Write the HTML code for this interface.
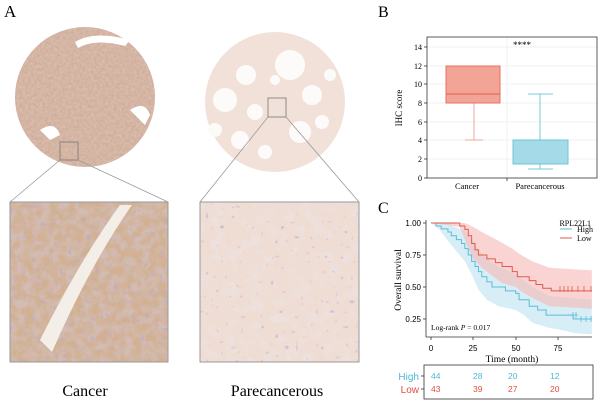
<!DOCTYPE html>
<html><head><meta charset="utf-8"><style>
html,body{margin:0;padding:0;background:#fff;}
svg{display:block;font-family:"Liberation Serif",serif;}
.s{font-family:"Liberation Sans",sans-serif;}
</style></head><body>
<svg width="600" height="405" viewBox="0 0 600 405" xmlns="http://www.w3.org/2000/svg">
<defs>
<filter id="tex1" x="0" y="0" width="100%" height="100%">
<feTurbulence type="fractalNoise" baseFrequency="0.35" numOctaves="2" seed="3" result="n"/>
<feColorMatrix type="matrix" values="0 0 0 0 0.7  0 0 0 0 0.5  0 0 0 0 0.42  0 0 0 -2 1.5"/>
<feComposite in2="SourceGraphic" operator="in"/>
</filter>
<filter id="tex2" x="0" y="0" width="100%" height="100%">
<feTurbulence type="fractalNoise" baseFrequency="0.12" numOctaves="3" seed="7"/>
<feColorMatrix type="matrix" values="0 0 0 0 0.65  0 0 0 0 0.5  0 0 0 0 0.45  0 0 0 -2.4 1.7"/>
<feComposite in2="SourceGraphic" operator="in"/>
</filter>
<filter id="nuc" x="0" y="0" width="100%" height="100%">
<feTurbulence type="fractalNoise" baseFrequency="0.22" numOctaves="1" seed="21"/>
<feColorMatrix type="matrix" values="0 0 0 0 0.5  0 0 0 0 0.4  0 0 0 0 0.6  12 0 0 0 -7.6"/>
<feComposite in2="SourceGraphic" operator="in"/>
</filter>
<filter id="nuc2" x="0" y="0" width="100%" height="100%">
<feTurbulence type="fractalNoise" baseFrequency="0.2" numOctaves="1" seed="5"/>
<feColorMatrix type="matrix" values="0 0 0 0 0.5  0 0 0 0 0.42  0 0 0 0 0.65  12 0 0 0 -8.2"/>
<feComposite in2="SourceGraphic" operator="in"/>
</filter>
<filter id="tex3" x="0" y="0" width="100%" height="100%">
<feTurbulence type="fractalNoise" baseFrequency="0.08" numOctaves="3" seed="11"/>
<feColorMatrix type="matrix" values="0 0 0 0 0.85  0 0 0 0 0.75  0 0 0 0 0.72  0 0 0 -2.6 1.6"/>
<feComposite in2="SourceGraphic" operator="in"/>
</filter>
</defs>
<text x="4" y="17" font-size="17">A</text>
<circle cx="85" cy="97" r="70" fill="#cfae9a"/>
<circle cx="85" cy="97" r="70" fill="#fff" filter="url(#tex1)"/>
<path d="M75 42 Q95 30 130 40 L125 46 Q95 38 78 48Z" fill="#fff"/>
<path d="M130 110 Q145 100 150 115 L145 125Z" fill="#fff"/>
<path d="M40 130 Q55 120 60 135 L50 140Z" fill="#fff"/>
<rect x="60" y="142" width="18" height="18" fill="none" stroke="#777" stroke-width="0.8"/>
<circle cx="275" cy="102" r="70" fill="#f1e1d9"/>
<g fill="#fdfbfa">
<circle cx="290" cy="65" r="15"/><circle cx="246" cy="75" r="10"/><circle cx="225" cy="100" r="12"/>
<circle cx="255" cy="112" r="8"/><circle cx="312" cy="95" r="10"/><circle cx="300" cy="132" r="11"/>
<circle cx="240" cy="140" r="9"/><circle cx="322" cy="122" r="7"/><circle cx="265" cy="152" r="7"/>
<circle cx="330" cy="75" r="6"/><circle cx="215" cy="130" r="7"/><circle cx="275" cy="80" r="5"/></g>
<rect x="268" y="98" width="18" height="19" fill="none" stroke="#777" stroke-width="0.8"/>
<g stroke="#999" stroke-width="0.8">
<line x1="60" y1="160" x2="10" y2="202"/><line x1="78" y1="160" x2="168" y2="202"/>
<line x1="268" y1="117" x2="200" y2="202"/><line x1="286" y1="117" x2="359" y2="202"/></g>
<rect x="10" y="202" width="158" height="160" fill="#d2b090"/>
<rect x="10" y="202" width="158" height="160" fill="#fff" filter="url(#tex2)"/>
<rect x="10" y="202" width="158" height="160" fill="#fff" filter="url(#nuc)" opacity="0.6"/>
<path d="M40 340 Q80 260 120 205 L132 205 Q90 265 52 352Z" fill="#f4eee9"/>
<rect x="10" y="202" width="158" height="160" fill="none" stroke="#999" stroke-width="1"/>
<rect x="200" y="202" width="159" height="160" fill="#efdcd2"/>
<rect x="200" y="202" width="159" height="160" fill="#fff" filter="url(#tex3)"/>
<rect x="200" y="202" width="159" height="160" fill="#fff" filter="url(#nuc2)" opacity="0.6"/>
<rect x="200" y="202" width="159" height="160" fill="none" stroke="#999" stroke-width="1"/>
<text x="85" y="396" font-size="16" text-anchor="middle">Cancer</text>
<text x="277" y="396" font-size="16" text-anchor="middle">Parecancerous</text>

<text x="378" y="17" font-size="16">B</text>
<g stroke="#eee" stroke-width="0.8">
<line x1="427" y1="159" x2="597" y2="159"/><line x1="427" y1="140" x2="597" y2="140"/><line x1="427" y1="122" x2="597" y2="122"/>
<line x1="427" y1="103" x2="597" y2="103"/><line x1="427" y1="84" x2="597" y2="84"/><line x1="427" y1="66" x2="597" y2="66"/><line x1="427" y1="47" x2="597" y2="47"/>
<line x1="507" y1="37" x2="507" y2="178"/></g>
<rect x="427" y="37" width="170" height="141" fill="none" stroke="#333" stroke-width="0.8"/>
<g stroke="#333" stroke-width="0.8">
<line x1="424" y1="178" x2="427" y2="178"/><line x1="424" y1="159" x2="427" y2="159"/><line x1="424" y1="140" x2="427" y2="140"/><line x1="424" y1="122" x2="427" y2="122"/><line x1="424" y1="103" x2="427" y2="103"/><line x1="424" y1="84" x2="427" y2="84"/><line x1="424" y1="66" x2="427" y2="66"/><line x1="424" y1="47" x2="427" y2="47"/>
<line x1="507" y1="178" x2="507" y2="181"/></g>
<g font-size="8" text-anchor="end">
<text x="422" y="181">0</text><text x="422" y="162">2</text><text x="422" y="143">4</text><text x="422" y="125">6</text><text x="422" y="106">8</text><text x="422" y="87">10</text><text x="422" y="69">12</text><text x="422" y="50">14</text></g>
<text transform="translate(402,108) rotate(-90)" font-size="9" text-anchor="middle">IHC score</text>
<text x="513" y="48" font-size="9">****</text>
<line x1="474" y1="103" x2="474" y2="140" stroke="#eea79b" stroke-width="1"/>
<line x1="465" y1="140" x2="483" y2="140" stroke="#eea79b" stroke-width="1"/>
<rect x="446" y="66" width="54" height="37" fill="#f2a597" stroke="#e87060" stroke-width="1"/>
<line x1="446" y1="94" x2="500" y2="94" stroke="#e2604f" stroke-width="1"/>
<line x1="540" y1="94" x2="540" y2="140" stroke="#78c9d9" stroke-width="1"/>
<line x1="540" y1="164" x2="540" y2="169" stroke="#78c9d9" stroke-width="1"/>
<line x1="528" y1="94" x2="553" y2="94" stroke="#78c9d9" stroke-width="1"/>
<line x1="528" y1="169" x2="553" y2="169" stroke="#78c9d9" stroke-width="1"/>
<rect x="513" y="140" width="55" height="24" fill="#a5dbe8" stroke="#6cc4d6" stroke-width="1"/>
<text x="467" y="189" font-size="8.5" text-anchor="middle">Cancer</text>
<text x="540" y="189" font-size="8.5" text-anchor="middle">Parecancerous</text>

<text x="378" y="213" font-size="16">C</text>
<g transform="translate(431,351) scale(1.693,-128)">
<polygon fill="#c9e8f4" fill-opacity="0.75" points="0,1 10,1 14,.97 20,.94 25,.85 30,.76 35,.7 40,.66 50,.6 55,.55 60,.5 70,.43 95,.4 95,.13 85,.14 75,.17 70,.18 60,.22 55,.28 50,.32 40,.35 33,.4 28,.48 24,.6 20,.7 15,.78 10,.86 5,.95 0,1"/>
<polygon fill="#f6b8b4" fill-opacity="0.6" points="0,1 20,1 25,.97 30,.93 40,.86 48,.8 52,.76 60,.7 70,.65 95,.63 95,.33 70,.35 62,.4 55,.45 50,.5 42,.53 35,.6 30,.65 25,.72 22,.8 19,.9 17,.97 0,1"/>
<polyline fill="none" stroke="#5fbcd6" stroke-width="1" vector-effect="non-scaling-stroke" points="0,1 3,1 3,.977 6,.977 6,.954 10,.954 10,.93 12,.93 12,.9 15,.9 15,.87 18,.87 18,.84 20,.84 20,.8 22,.8 22,.75 24,.75 24,.7 26,.7 26,.66 28,.66 28,.62 30,.62 30,.58 33,.58 33,.54 36,.54 36,.5 44,.5 44,.47 50,.47 50,.45 52,.45 52,.4 58,.4 58,.35 63,.35 63,.32 68,.32 68,.28 84,.28 84,.25 95,.25"/>
<polyline fill="none" stroke="#e25a4c" stroke-width="1" vector-effect="non-scaling-stroke" points="0,1 17,1 17,.977 20,.977 20,.95 22,.95 22,.9 24,.9 24,.84 26,.84 26,.79 28,.79 28,.75 33,.75 33,.72 38,.72 38,.69 42,.69 42,.66 48,.66 48,.62 51,.62 51,.58 58,.58 58,.55 62,.55 62,.52 66,.52 66,.49 71,.49 71,.47 95,.47"/>
</g>
<g stroke="#e25a4c" stroke-width="0.8">
<path d="M560 286v6M564 286v6M568 286v6M572 286v6M578 286v6M584 286v6M591 286v6"/></g>
<g stroke="#5fbcd6" stroke-width="0.8">
<path d="M573 312v6M576 312v6M568 315h10M581 316v6M586 316v6M591 316v6"/></g>
<line x1="426" y1="220" x2="426" y2="337" stroke="#333" stroke-width="0.8"/>
<line x1="426" y1="337" x2="592" y2="337" stroke="#333" stroke-width="0.8"/>
<g stroke="#333" stroke-width="0.8">
<line x1="423" y1="223" x2="426" y2="223"/><line x1="423" y1="255" x2="426" y2="255"/><line x1="423" y1="287" x2="426" y2="287"/><line x1="423" y1="319" x2="426" y2="319"/>
<line x1="431" y1="337" x2="431" y2="340"/><line x1="473" y1="337" x2="473" y2="340"/><line x1="516" y1="337" x2="516" y2="340"/><line x1="558" y1="337" x2="558" y2="340"/></g>
<g class="s" font-size="8" text-anchor="end">
<text x="421" y="226">1.00</text><text x="421" y="258">0.75</text><text x="421" y="290">0.50</text><text x="421" y="322">0.25</text></g>
<g class="s" font-size="8" text-anchor="middle">
<text x="431" y="351">0</text><text x="473" y="351">25</text><text x="516" y="351">50</text><text x="558" y="351">75</text></g>
<text transform="translate(401,280) rotate(-90)" font-size="9.5" text-anchor="middle">Overall survival</text>
<text x="512" y="362" font-size="9.5" text-anchor="middle">Time (month)</text>
<text x="431" y="330" font-size="7.5">Log-rank  <tspan font-style="italic">P</tspan> = 0.017</text>
<text x="591" y="226" font-size="8" text-anchor="end">RPL22L1</text>
<line x1="560" y1="229" x2="572" y2="229" stroke="#5fbcd6" stroke-width="1"/>
<text x="577" y="232" font-size="8">High</text>
<line x1="560" y1="238" x2="572" y2="238" stroke="#e25a4c" stroke-width="1"/>
<text x="577" y="241" font-size="8">Low</text>
<rect x="424" y="365" width="169" height="34" fill="none" stroke="#333" stroke-width="0.8"/>
<g stroke="#333" stroke-width="0.8"><line x1="421" y1="376" x2="424" y2="376"/><line x1="421" y1="389" x2="424" y2="389"/></g>
<g class="s" font-size="10" text-anchor="end"><text x="419" y="380" fill="#4fb8d6">High</text><text x="419" y="393" fill="#e2503f">Low</text></g>
<g class="s" font-size="8.5">
<g fill="#4fb8d6"><text x="431" y="379">44</text><text x="473" y="379">28</text><text x="508" y="379">20</text><text x="550" y="379">12</text></g>
<g fill="#e2503f"><text x="431" y="392">43</text><text x="473" y="392">39</text><text x="508" y="392">27</text><text x="550" y="392">20</text></g>
</g>
</svg>
</body></html>
